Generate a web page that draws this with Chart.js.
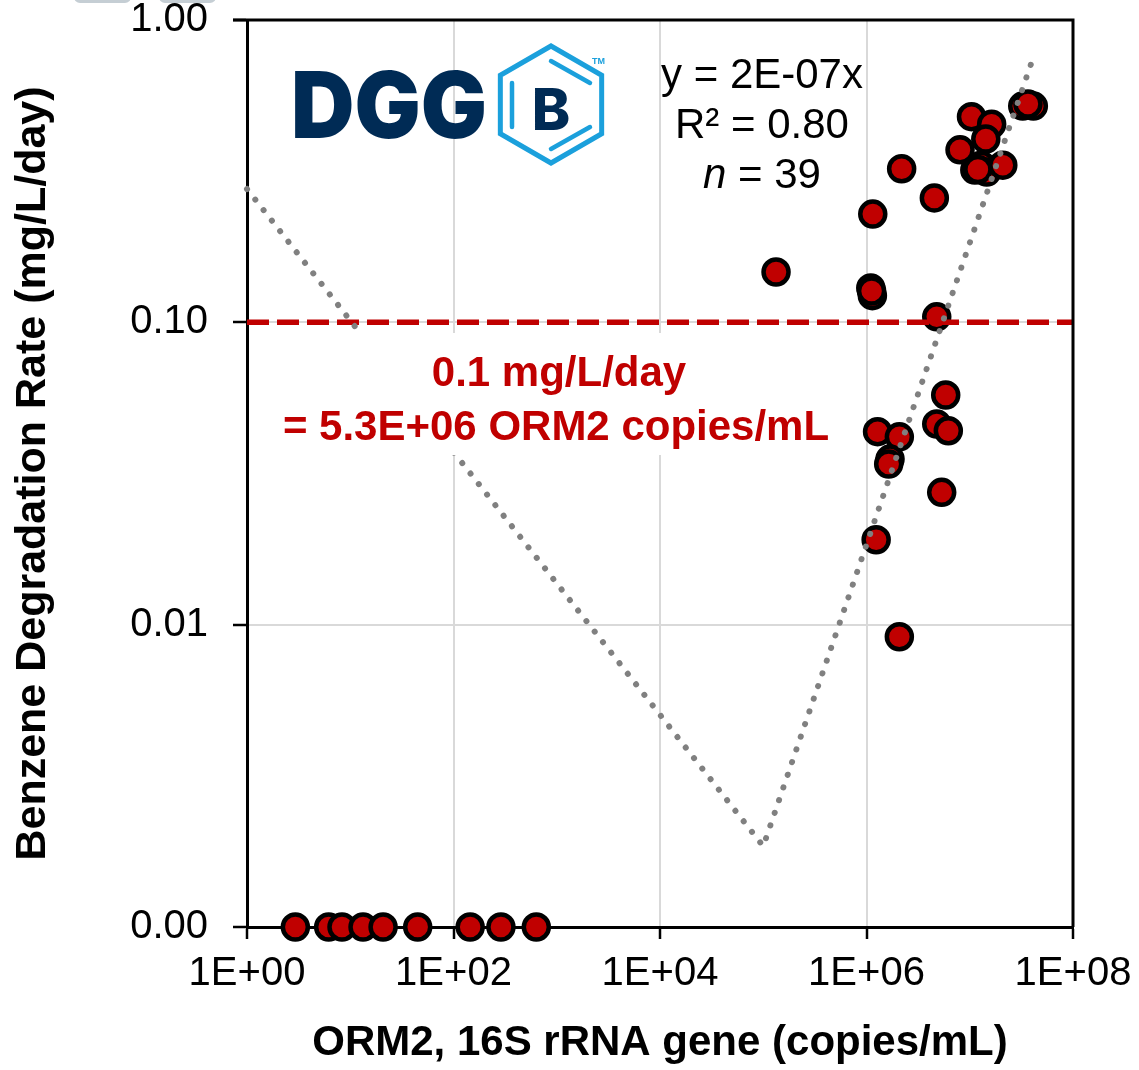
<!DOCTYPE html>
<html>
<head>
<meta charset="utf-8">
<script src="https://cdn.jsdelivr.net/npm/chart.js"></script>
<style>
  body { margin: 0; background: #fff; }
  canvas { display: block; }
</style>
</head>
<body>
<canvas id="orm2Chart" width="1139" height="1070"></canvas>
<script type="text/javascript">

// ORM2 abundance (copies/mL) vs. benzene degradation rate (mg/L/day)
const detectX = [4.13e7, 3.26e7, 3.66e7, 1.04e7, 1.63e7, 1.43e7, 8.05e6, 2.19e6, 4.54e6, 1.12e7,
                 1.29e7, 1.46e7, 1.2e7, 2.09e7, 1.15e6, 1.10e6, 1.14e6, 1.12e6, 4.79e6, 1.33e5,
                 5.85e6, 4.79e6, 6.2e6, 1.28e6, 2.08e6, 1.69e6, 1.64e6, 5.35e6, 1.24e6, 2.08e6];
const detectY = [0.519, 0.519, 0.527, 0.479, 0.452, 0.404, 0.372, 0.322, 0.258, 0.319,
                 0.331, 0.314, 0.32, 0.331, 0.228, 0.130, 0.1225, 0.127, 0.1043, 0.1467,
                 0.0575, 0.0461, 0.0438, 0.0435, 0.0418, 0.0353, 0.034, 0.0274, 0.0191, 0.00912];

// no measurable degradation: sits on the axis floor ("0.00")
const zeroX = [2.94, 6.18, 8.32, 13.3, 20.8, 45.0, 145, 288, 634];
const zeroY = [0.001, 0.001, 0.001, 0.001, 0.001, 0.001, 0.001, 0.001, 0.001];

// trendline as drawn by the spreadsheet on log axes
const trendX = [1, 1e5, 4.1e7];
const trendY = [0.276, 0.00185, 0.748];

const thresholdX = [1, 1e8];
const thresholdY = [0.1, 0.1];

const xTickValues = [1, 1e2, 1e4, 1e6, 1e8];
const yTickValues = [0.001, 0.01, 0.1, 1];

const fitLines = ['y = 2E-07x', 'R\u00b2 = 0.80'];
const nCount = 39;
const thresholdNote = ['0.1 mg/L/day', '= 5.3E+06 ORM2 copies/mL'];

const RED = '#c00000';
const FONT = "'Liberation Sans', Arial, sans-serif";

function pairs(xs, ys) {
    return xs.map((x, i) => ({ x: x, y: ys[i] }));
}

function expLabel(v) {
    const e = Math.round(Math.log10(v));
    return '1E+' + String(e).padStart(2, '0');
}

function drawLogo(ctx) {
    // DGG wordmark
    ctx.save();
    ctx.fillStyle = '#002b55';
    ctx.font = "900 92px Inter, 'Open Sans', sans-serif";
    ctx.textBaseline = 'alphabetic';
    const w = ctx.measureText('DGG').width;
    ctx.translate(291, 138);
    ctx.scale(196 / w, 1);
    ctx.fillText('DGG', 0, 0);
    ctx.restore();

    // benzene ring
    const cx = 551, cy = 104.5, r = 58.5;
    ctx.save();
    ctx.strokeStyle = '#1ba0dc';
    ctx.lineWidth = 5;
    ctx.beginPath();
    for (let i = 0; i < 6; i++) {
        const a = -Math.PI / 2 + i * Math.PI / 3;
        const px = cx + r * Math.cos(a), py = cy + r * Math.sin(a);
        if (i === 0) ctx.moveTo(px, py); else ctx.lineTo(px, py);
    }
    ctx.closePath();
    ctx.stroke();
    ctx.lineCap = 'round';
    ctx.lineWidth = 4.5;
    [[512, 83, 512, 127], [551, 61, 590, 83], [590, 127, 551, 149]].forEach(s => {
        ctx.beginPath();
        ctx.moveTo(s[0], s[1]);
        ctx.lineTo(s[2], s[3]);
        ctx.stroke();
    });
    ctx.fillStyle = '#002b55';
    ctx.font = "800 58px Inter, 'Open Sans', sans-serif";
    ctx.textAlign = 'center';
    ctx.fillText('B', cx, 130);
    ctx.fillStyle = '#1ba0dc';
    ctx.font = "bold 9px " + FONT;
    ctx.textAlign = 'left';
    ctx.fillText('TM', 592, 64);
    ctx.restore();
}

const overlayPlugin = {
    id: 'overlay',
    afterDatasetsDraw(chart) {
        const ctx = chart.ctx;
        const a = chart.chartArea;
        ctx.save();
        // plot frame
        ctx.strokeStyle = '#000';
        ctx.lineWidth = 3;
        ctx.beginPath();
        ctx.moveTo(a.left - 14, a.top);
        ctx.lineTo(a.right, a.top);
        ctx.lineTo(a.right, a.bottom);
        ctx.stroke();

        // threshold note on a white box
        ctx.fillStyle = '#fff';
        ctx.fillRect(256, 333, 602, 122);
        ctx.fillStyle = RED;
        ctx.font = 'bold 42px ' + FONT;
        ctx.textAlign = 'center';
        ctx.textBaseline = 'alphabetic';
        ctx.fillText(thresholdNote[0], 559, 386);
        ctx.fillText(thresholdNote[1], 556, 440);
        ctx.restore();
    },
    afterDraw(chart) {
        const ctx = chart.ctx;
        ctx.save();
        // small grey tabs at the top edge
        ctx.fillStyle = '#c5ced4';
        ctx.beginPath();
        ctx.roundRect(74, -10, 57, 13, 6);
        ctx.roundRect(159, -10, 57, 13, 6);
        ctx.fill();

        drawLogo(ctx);

        // fit statistics
        ctx.fillStyle = '#000';
        ctx.textBaseline = 'alphabetic';
        ctx.textAlign = 'center';
        ctx.font = '42px ' + FONT;
        ctx.fillText(fitLines[0], 762, 88);
        ctx.fillText(fitLines[1], 762, 138);
        ctx.font = 'italic 42px ' + FONT;
        const nW = ctx.measureText('n').width;
        ctx.font = '42px ' + FONT;
        const rest = ' = ' + nCount;
        const rW = ctx.measureText(rest).width;
        const start = 762 - (nW + rW) / 2;
        ctx.textAlign = 'left';
        ctx.fillText(rest, start + nW, 188);
        ctx.font = 'italic 42px ' + FONT;
        ctx.fillText('n', start, 188);
        ctx.restore();
    }
};

const ctx = document.getElementById('orm2Chart').getContext('2d');
const myChart = new Chart(ctx, {
    type: 'scatter',
    data: {
        datasets: [{
            label: 'trend',
            data: pairs(trendX, trendY),
            showLine: true,
            borderColor: '#808080',
            borderWidth: 6,
            borderDash: [0.1, 13.3],
            borderCapStyle: 'round',
            pointRadius: 0,
            order: 0,
            clip: false,
        }, {
            label: '0.1 mg/L/day',
            data: pairs(thresholdX, thresholdY),
            showLine: true,
            borderColor: RED,
            borderWidth: 5.5,
            borderDash: [22, 8],
            pointRadius: 0,
            order: 1,
        }, {
            label: 'ORM2',
            data: pairs(detectX, detectY),
            backgroundColor: RED,
            borderColor: '#000',
            borderWidth: 4.5,
            pointRadius: 12.5,
            order: 2,
            clip: false,
        }, {
            label: 'ORM2 (no degradation)',
            data: pairs(zeroX, zeroY),
            backgroundColor: RED,
            borderColor: '#000',
            borderWidth: 4.5,
            pointRadius: 12.5,
            order: 3,
            clip: false,
        }],
    },
    options: {
        responsive: false,
        animation: false,
        layout: { padding: { top: 20, right: 66, left: 0, bottom: 0 } },
        plugins: {
            legend: { display: false },
            tooltip: { enabled: false },
        },
        scales: {
            x: {
                type: 'logarithmic',
                position: 'bottom',
                min: 1,
                max: 1e8,
                afterBuildTicks: scale => { scale.ticks = xTickValues.map(v => ({ value: v })); },
                afterFit: scale => { scale.height = 143; scale.paddingLeft = 0; scale.paddingRight = 0; },
                ticks: {
                    callback: v => expLabel(v),
                    color: '#000',
                    font: { family: FONT, size: 40, lineHeight: 1 },
                    padding: 15,
                    maxRotation: 0,
                    autoSkip: false,
                },
                grid: {
                    color: '#d9d9d9',
                    lineWidth: 2,
                    tickColor: '#000',
                    tickLength: 12,
                    tickWidth: 2.5,
                },
                border: { color: '#000', width: 3 },
                title: {
                    display: true,
                    text: 'ORM2, 16S rRNA gene (copies/mL)',
                    color: '#000',
                    font: { family: FONT, size: 42, weight: 'bold' },
                    padding: { top: 0, bottom: 1 },
                },
            },
            y: {
                type: 'logarithmic',
                min: 0.001,
                max: 1,
                afterBuildTicks: scale => { scale.ticks = yTickValues.map(v => ({ value: v })); },
                afterFit: scale => { scale.width = 247; scale.paddingTop = 0; scale.paddingBottom = 0; },
                ticks: {
                    callback: v => v.toFixed(2),
                    color: '#000',
                    font: { family: FONT, size: 40, lineHeight: 1 },
                    padding: 25,
                    autoSkip: false,
                },
                grid: {
                    color: '#d9d9d9',
                    lineWidth: 2,
                    tickColor: '#000',
                    tickLength: 14,
                    tickWidth: 2.5,
                },
                border: { color: '#000', width: 3 },
                title: {
                    display: true,
                    text: 'Benzene Degradation Rate (mg/L/day)',
                    color: '#000',
                    font: { family: FONT, size: 43, weight: 'bold' },
                    padding: { top: 7, bottom: 0 },
                },
            },
        },
    },
    plugins: [overlayPlugin],
});
</script>
</body>
</html>
